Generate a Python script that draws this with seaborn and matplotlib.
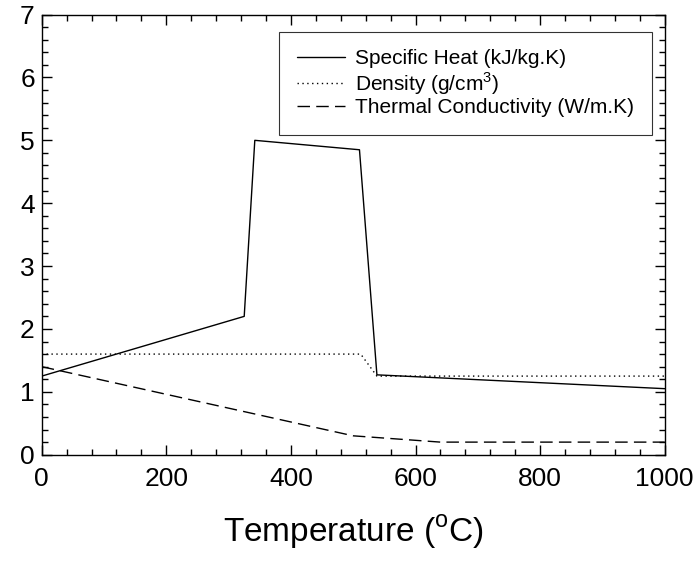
import matplotlib
matplotlib.use("Agg")
import matplotlib.pyplot as plt
from matplotlib.ticker import MultipleLocator
import seaborn as sns
import pandas as pd

# Data
cp_temp = [0, 325, 342, 510, 538, 1000]
cp_vals = [1.25, 2.2, 5.0, 4.85, 1.27, 1.05]
rho_temp = [0, 512, 538, 1000]
rho_vals = [1.6, 1.6, 1.25, 1.25]
k_temp = [0, 500, 640, 1000]
k_vals = [1.4, 0.3, 0.2, 0.2]

labels = ["Specific Heat (kJ/kg.K)", "Density (g/cm$^3$)", "Thermal Conductivity (W/m.K)"]

sns.set_style("ticks")
plt.rcParams["font.family"] = ["Liberation Sans", "DejaVu Sans"]
plt.rcParams["mathtext.fontset"] = "custom"
plt.rcParams["mathtext.rm"] = "Liberation Sans"
plt.rcParams["text.color"] = "black"
plt.rcParams["axes.labelcolor"] = "black"
plt.rcParams["xtick.color"] = "black"
plt.rcParams["ytick.color"] = "black"

fig = plt.figure(figsize=(6.99, 5.61), dpi=100)
ax = fig.add_axes([0.0597, 0.1895, 0.8913, 0.7845])

df_cp = pd.DataFrame({"T": cp_temp, "v": cp_vals})
df_rho = pd.DataFrame({"T": rho_temp, "v": rho_vals})
df_k = pd.DataFrame({"T": k_temp, "v": k_vals})

sns.lineplot(data=df_cp, x="T", y="v", ax=ax, color="black", lw=1.0,
             label=labels[0], sort=False)
sns.lineplot(data=df_rho, x="T", y="v", ax=ax, color="black", lw=1.0,
             linestyle=(0, (1, 2.5)), label=labels[1], sort=False)
sns.lineplot(data=df_k, x="T", y="v", ax=ax, color="black", lw=1.0,
             linestyle=(0, (9, 4.5)), label=labels[2], sort=False)

ax.set_xlim(0, 1000)
ax.set_ylim(0, 7)
ax.xaxis.set_major_locator(MultipleLocator(200))
ax.xaxis.set_minor_locator(MultipleLocator(40))
ax.yaxis.set_major_locator(MultipleLocator(1))
ax.yaxis.set_minor_locator(MultipleLocator(0.2))
ax.tick_params(which="both", direction="in", top=True, right=True,
               labelsize=19, color="black", labelcolor="black", width=1.0)
ax.tick_params(which="major", length=7)
ax.tick_params(axis="x", which="major", pad=9)
ax.tick_params(axis="y", which="major", pad=5)
ax.tick_params(which="minor", length=4)
for s in ax.spines.values():
    s.set_color("black")
    s.set_linewidth(1.0)

ax.set_xlabel("Temperature ($^\\mathregular{o}$C)", fontsize=24, labelpad=16,
              color="black")
ax.set_ylabel("")

leg = ax.legend(loc="upper right", bbox_to_anchor=(0.979, 0.961), fontsize=15,
                frameon=True, fancybox=False, edgecolor="black",
                borderaxespad=0.0, handlelength=2.3, borderpad=0.85,
                labelspacing=0.08, handletextpad=0.5)
leg.get_frame().set_linewidth(0.8)
for t in leg.get_texts():
    t.set_color("black")

fig.savefig("out.png", dpi=100)
